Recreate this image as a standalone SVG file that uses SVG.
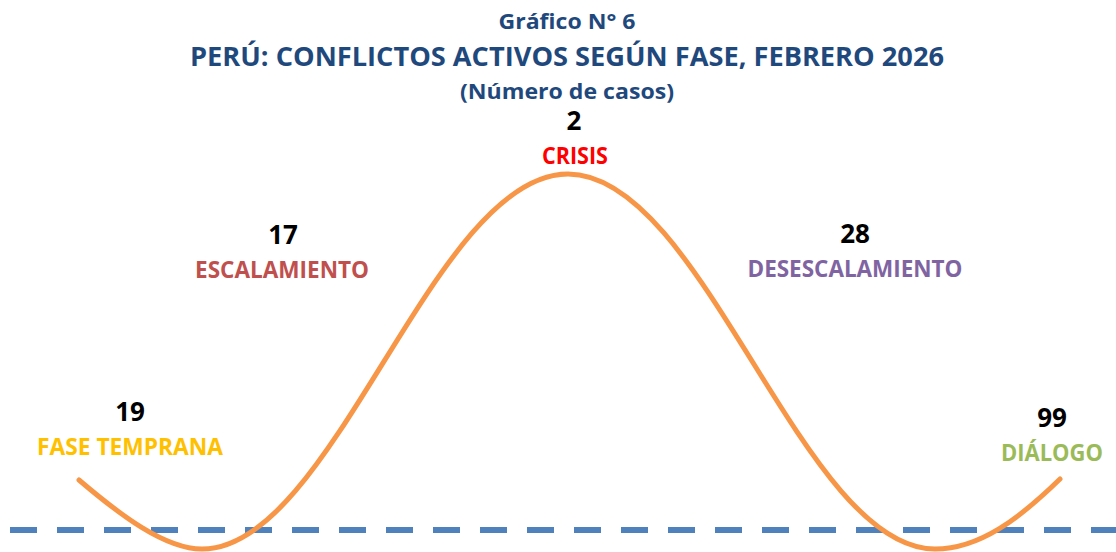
<svg xmlns="http://www.w3.org/2000/svg" width="1116" height="552" viewBox="0 0 1116 552">
<style>
text{font-family:"Open Sans","Liberation Sans",sans-serif;font-weight:bold;text-anchor:middle}
.t{fill:#1F497D}
.n{fill:#000;font-size:26px}
.l{font-size:23px}
</style>
<rect width="1116" height="552" fill="#fff"/>
<g id="title">
<text class="t" x="567" y="29" font-size="22" textLength="137" lengthAdjust="spacingAndGlyphs">Gráfico N° 6</text>
<text class="t" x="567" y="66" font-size="26" textLength="754" lengthAdjust="spacingAndGlyphs">PERÚ: CONFLICTOS ACTIVOS SEGÚN FASE, FEBRERO 2026</text>
<text class="t" x="567" y="99" font-size="22" textLength="214" lengthAdjust="spacingAndGlyphs">(Número de casos)</text>
</g>
<g id="connectors">
<line x1="10" y1="530" x2="1116" y2="530" stroke="#4F81BD" stroke-width="6" stroke-dasharray="27 20"/>
<path d="M79,480 C120,515 165,549 202,549 C334,549 433,174 568,174 C703,174 802,549 935,549 C980,549 1020,518 1060,479" fill="none" stroke="#F79646" stroke-width="5" stroke-linecap="round"/>
</g>
<g id="fase-temprana">
<text class="n" x="130" y="421">19</text>
<text class="l" x="130" y="455" fill="#FFC000" textLength="186" lengthAdjust="spacingAndGlyphs">FASE TEMPRANA</text>
</g>
<g id="escalamiento">
<text class="n" x="283" y="244">17</text>
<text class="l" x="282" y="278" fill="#C0504D" textLength="174" lengthAdjust="spacingAndGlyphs">ESCALAMIENTO</text>
</g>
<g id="crisis">
<text class="n" x="574" y="130">2</text>
<text class="l" x="575" y="164" fill="#FF0000" textLength="66" lengthAdjust="spacingAndGlyphs">CRISIS</text>
</g>
<g id="desescalamiento">
<text class="n" x="855" y="243">28</text>
<text class="l" x="855" y="277" fill="#8064A2" textLength="215" lengthAdjust="spacingAndGlyphs">DESESCALAMIENTO</text>
</g>
<g id="dialogo">
<text class="n" x="1052" y="427">99</text>
<text class="l" x="1052" y="461" fill="#9BBB59" textLength="102" lengthAdjust="spacingAndGlyphs">DIÁLOGO</text>
</g>
</svg>
